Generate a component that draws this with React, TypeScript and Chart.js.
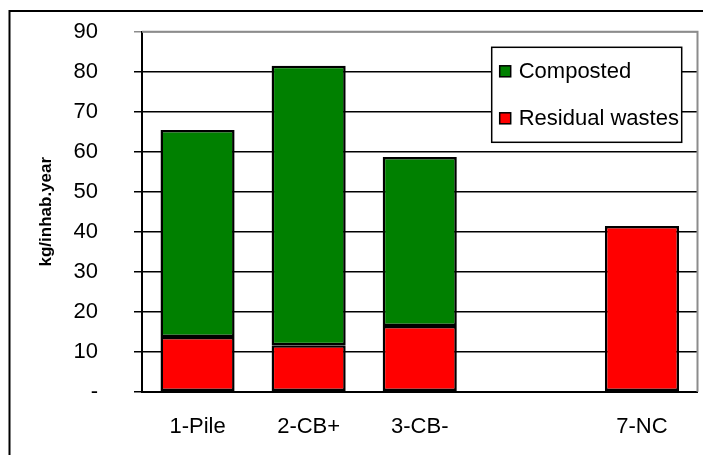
import React, { useEffect, useRef } from "react";
import { Chart, registerables } from "chart.js";

Chart.register(...registerables);

// Categories along the x axis (one empty slot between 3-CB- and 7-NC)
const categories = ["1-Pile", "2-CB+", "3-CB-", "", "7-NC"];

// kg per inhabitant per year
const residualWastes = [13.7, 11.6, 16.4, null, 41.4];
const composted = [51.7, 69.9, 42.3, null, null];

const yTicks = [0, 10, 20, 30, 40, 50, 60, 70, 80, 90];

const FONT = "'Liberation Sans', Arial, Helvetica, sans-serif";
const GREEN = "#008000";
const RED = "#FF0000";

// Frame around the whole figure plus gray plot-area edges on top and right
const framePlugin = {
  id: "frame",
  beforeDraw(chart: any) {
    const { ctx } = chart;
    ctx.save();
    ctx.fillStyle = "#fff";
    ctx.fillRect(0, 0, chart.width, chart.height);
    ctx.strokeStyle = "#000";
    ctx.lineWidth = 2;
    ctx.beginPath();
    ctx.moveTo(chart.width + 5, 11);
    ctx.lineTo(9.5, 11);
    ctx.lineTo(9.5, chart.height + 5);
    ctx.stroke();
    ctx.restore();
  },
  afterDatasetsDraw(chart: any) {
    const { ctx, chartArea } = chart;
    ctx.save();
    ctx.strokeStyle = "#8c8c8c";
    ctx.lineWidth = 2;
    ctx.beginPath();
    ctx.moveTo(chartArea.left, chartArea.top);
    ctx.lineTo(chartArea.right, chartArea.top);
    ctx.lineTo(chartArea.right, chartArea.bottom);
    ctx.stroke();
    ctx.restore();
  },
};

// Boxed legend inside the plot area, top-right, listing the top stack first
const boxLegendPlugin = {
  id: "boxLegend",
  afterDraw(chart: any) {
    const { ctx, chartArea } = chart;
    const w = 190;
    const h = 95;
    const x = chartArea.right - 15.8 - w;
    const y = chartArea.top + 15.6;
    ctx.save();
    ctx.fillStyle = "#fff";
    ctx.fillRect(x, y, w, h);
    ctx.strokeStyle = "#000";
    ctx.lineWidth = 1.5;
    ctx.strokeRect(x, y, w, h);
    const items = chart.data.datasets.slice().reverse();
    ctx.font = `22px ${FONT}`;
    ctx.textBaseline = "middle";
    ctx.textAlign = "left";
    items.forEach((ds: any, i: number) => {
      const cy = y + 24 + i * 47;
      ctx.fillStyle = ds.backgroundColor;
      ctx.fillRect(x + 8, cy - 5.5, 11, 11);
      ctx.strokeStyle = "#000";
      ctx.lineWidth = 1.5;
      ctx.strokeRect(x + 8, cy - 5.5, 11, 11);
      ctx.fillStyle = "#000";
      ctx.fillText(ds.label, x + 27, cy + 1);
    });
    ctx.restore();
  },
};

export default function App() {
  const canvasRef = useRef<HTMLCanvasElement | null>(null);

  useEffect(() => {
    if (!canvasRef.current) return;
    Chart.defaults.font.family = FONT;
    Chart.defaults.color = "#000";
    const chart = new Chart(canvasRef.current, {
      type: "bar",
      data: {
        labels: categories,
        datasets: [
          {
            label: "Residual wastes",
            data: residualWastes,
            backgroundColor: RED,
            borderColor: "#000",
            borderWidth: 2.5,
            borderSkipped: false,
            categoryPercentage: 1,
            barPercentage: 0.667,
          },
          {
            label: "Composted",
            data: composted,
            backgroundColor: GREEN,
            borderColor: "#000",
            borderWidth: 2.5,
            borderSkipped: false,
            categoryPercentage: 1,
            barPercentage: 0.667,
          },
        ],
      },
      options: {
        animation: false,
        responsive: false,
        maintainAspectRatio: false,
        layout: { padding: { left: 0, top: 31.7, right: 5.5, bottom: 0 } },
        plugins: {
          legend: { display: false },
          tooltip: { enabled: false },
        },
        scales: {
          x: {
            stacked: true,
            grid: { display: false, drawTicks: false },
            border: { display: true, color: "#000", width: 2 },
            ticks: {
              font: { size: 22 },
              color: "#000",
              padding: 22,
              maxRotation: 0,
              autoSkip: false,
            },
            afterFit(scale: any) {
              scale.height = 63.3;
              scale.paddingLeft = 0;
              scale.paddingRight = 0;
            },
          },
          y: {
            stacked: true,
            min: 0,
            max: 90,
            afterBuildTicks(scale: any) {
              scale.ticks = yTicks.map((v) => ({ value: v }));
            },
            grid: {
              color: (ctx: any) =>
                ctx.tick && ctx.tick.value === 90 ? "#8c8c8c" : "#000",
              lineWidth: 1.5,
              tickLength: 8,
              drawTicks: true,
            },
            border: { display: true, color: "#000", width: 2 },
            ticks: {
              font: { size: 22 },
              color: "#000",
              padding: 36,
              callback: (v: any) => (Number(v) === 0 ? "-" : String(v)),
            },
            title: {
              display: true,
              text: "kg/inhab.year",
              font: { size: 17, weight: "bold" },
              color: "#000",
              padding: { top: 36, bottom: 0 },
            },
            afterFit(scale: any) {
              scale.width = 142;
              scale.paddingTop = 0;
              scale.paddingBottom = 0;
            },
          },
        },
      },
      plugins: [framePlugin, boxLegendPlugin],
    });
    return () => chart.destroy();
  }, []);

  return (
    <div style={{ position: "absolute", left: 0, top: 0, width: 703, height: 455 }}>
      <canvas ref={canvasRef} width={703} height={455} style={{ display: "block" }} />
    </div>
  );
}
